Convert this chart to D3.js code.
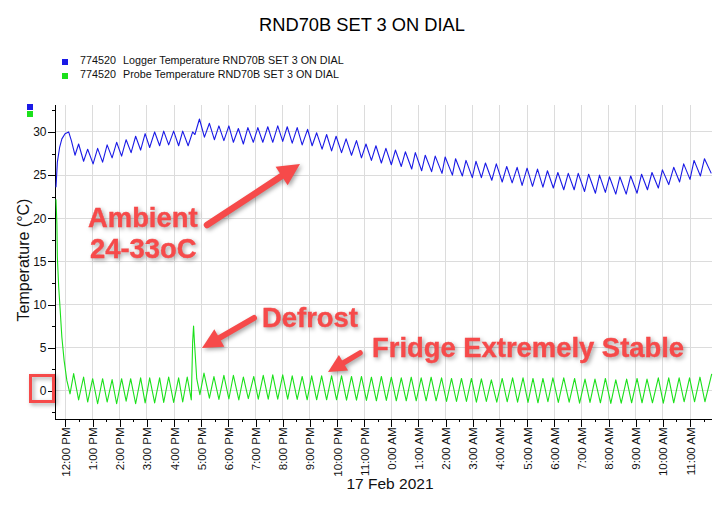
<!DOCTYPE html>
<html><head>
<meta charset="utf-8">
<title>RND70B SET 3 ON DIAL</title>
<script src="https://cdn.jsdelivr.net/npm/d3@7"></script>
<style>
body { margin: 0; background: #fff; }
text { font-family: "Liberation Sans", Arial, sans-serif; }
.axis path, .axis line { stroke: #000; shape-rendering: crispEdges; }
.axis text { font-size: 11.5px; fill: #111; }
.grid line { stroke: #dcdcdc; shape-rendering: crispEdges; }
.note { font-weight: bold; font-size: 27.4px; fill: #f64a4a; stroke: #f64a4a; stroke-width: .4px; }
.shadow { filter: drop-shadow(2px 2px 2px rgba(0,0,0,.35)); }
</style>
</head>
<body>
<svg id="chart" width="719" height="510"></svg>
<script>
// minutes after 12:00 PM, peaks and troughs
var loggerMinutes = [-21,-18,-13,-8,-1,7,13,21,29,40,49,61,71,82,92,103,113,124,134,145,155,166,176,186,197,208,217,228,239,250,259,271,281,286,296,307,318,329,339,350,361,371,382,
  393,403,415,425,436,447,458,469,480,490,501,512,523,535,545,555,567,577,588,598,610,620,632,643,654,664,676,686,698,708,720,729,742,751,765,773,787,795,809,817,832,839,855,862,877,885,899,907,
  919,928,942,952,965,975,987,998,1009,1020,1032,1043,1055,1065,1078,1088,1101,1111,1124,1133,1147,1156,1171,1180,1193,1202,1216,1225,1239,1249,1263,1273,1286,1296,1310,1319,1333,1344,1357,1366,1380,1389,1403,1412,1427];
var loggerTemp = [23.6,26.5,28.2,29.2,29.8,30.0,29.0,27.3,28.6,26.6,28.0,26.3,28.1,26.5,28.5,27.0,28.8,27.2,29.1,27.6,29.5,27.9,29.8,28.2,30.0,28.4,30.1,28.5,30.1,28.4,30.1,28.4,30.0,29.7,31.5,29.4,31.0,29.1,30.7,29.0,30.7,28.8,30.4,
  28.6,30.5,28.8,30.5,28.8,30.6,28.8,30.7,28.9,30.6,28.7,30.5,28.5,30.3,28.4,29.9,28.0,29.7,27.8,29.5,27.6,29.2,27.3,29.0,27.0,28.6,26.7,28.4,26.4,28.1,26.2,27.9,26.0,27.7,25.7,27.6,25.5,27.3,25.4,27.2,25.2,27.1,25.0,26.9,24.9,26.7,24.7,26.6,
  24.7,26.4,24.4,26.3,24.2,26.0,24.1,25.9,23.8,25.8,23.7,25.7,23.6,25.5,23.5,25.3,23.3,25.2,23.3,25.2,23.1,25.1,22.9,25.0,23.0,24.8,22.8,24.8,22.8,24.9,22.9,25.1,23.3,25.3,23.5,25.6,23.9,25.9,24.2,26.3,24.5,26.7,24.9,26.9,25.2];

var probeMinutes = [-21,-19,-18,-15,-13,-8,-3,3,10,18,29,40,49,60,71,82,92,103,113,124,134,144,155,166,176,186,197,208,217,228,239,250,259,269,278,281,283,285,290,297,306,318,328,339,350,361,371,383,
  393,404,416,426,437,448,458,469,480,491,501,512,523,534,544,555,566,577,588,599,610,621,632,643,654,665,676,687,698,709,720,731,742,753,764,775,786,797,808,819,831,842,853,864,875,886,897,908,
  919,930,941,953,965,976,988,999,1011,1022,1033,1044,1055,1066,1077,1089,1101,1113,1125,1136,1148,1159,1170,1182,1193,1205,1216,1228,1240,1251,1263,1274,1285,1297,1310,1321,1333,1344,1356,1367,1379,1390,1402,1413,1428];
var probeTemp = [22.2,19.3,15.5,12,10.4,6.2,3.5,1.2,-0.35,2.0,-1.05,1.6,-1.3,1.4,-1.5,1.4,-1.3,1.3,-1.5,1.4,-1.2,1.4,-1.5,1.5,-1.4,1.5,-1.4,1.5,-1.35,1.6,-1.35,1.5,-1.3,1.6,-1.05,5.7,7.5,5.6,1.4,-0.45,2.05,-0.85,1.65,-1.0,1.8,-0.95,1.8,-1.05,
  1.6,-0.9,1.66,-0.97,1.8,-0.97,1.85,-0.97,1.85,-0.97,1.74,-1.0,1.66,-1.04,1.74,-1.04,1.74,-1.04,1.74,-1.04,1.74,-1.08,1.66,-1.08,1.66,-1.12,1.58,-1.16,1.66,-1.12,1.58,-1.16,1.5,-1.16,1.58,-1.16,1.5,-1.16,1.58,-1.16,1.5,-1.24,1.43,-1.24,1.43,-1.24,1.43,-1.31,
  1.39,-1.24,1.27,-1.31,1.43,-1.27,1.5,-1.31,1.5,-1.35,1.43,-1.39,1.43,-1.27,1.5,-1.35,1.5,-1.31,1.43,-1.43,1.35,-1.35,1.35,-1.39,1.43,-1.47,1.27,-1.43,1.35,-1.39,1.43,-1.39,1.35,-1.39,1.5,-1.43,1.5,-1.39,1.5,-1.27,1.5,-1.27,1.58,-1.27,1.97];

var hourLabels = ["12:00 PM","1:00 PM","2:00 PM","3:00 PM","4:00 PM","5:00 PM","6:00 PM","7:00 PM","8:00 PM","9:00 PM","10:00 PM","11:00 PM",
  "0:00 AM","1:00 AM","2:00 AM","3:00 AM","4:00 AM","5:00 AM","6:00 AM","7:00 AM","8:00 AM","9:00 AM","10:00 AM","11:00 AM"];
var tempTicks = [0,5,10,15,20,25,30];
var tempMinorTicks = [-2.5,2.5,7.5,12.5,17.5,22.5,27.5,32.5];
var hourTicks = hourLabels.map(function(d,i){ return i*60; });
var halfHourTicks = hourLabels.map(function(d,i){ return i*60+30; });

var svg = d3.select("#chart");
var x = d3.scaleLinear().domain([-24.3,1427.5]).range([54.5,711.5]);
var y = d3.scaleLinear().domain([-3.21,33.18]).range([418.5,104.5]);

//grid
svg.append("g").attr("class","grid").selectAll("line").data(hourTicks).enter().append("line")
  .attr("x1",x).attr("x2",x).attr("y1",y.range()[1]).attr("y2",y.range()[0]);
svg.append("g").attr("class","grid").selectAll("line").data(tempTicks).enter().append("line")
  .attr("y1",y).attr("y2",y).attr("x1",x.range()[0]).attr("x2",x.range()[1]);

//axes
var xAxis = svg.append("g").attr("class","axis").attr("transform","translate(0,418.5)")
  .call(d3.axisBottom(x).tickValues(hourTicks).tickSize(8).tickSizeOuter(0)
    .tickFormat(function(d,i){ return hourLabels[i]; }));
xAxis.selectAll("text").attr("transform","rotate(-90)").attr("text-anchor","end")
  .attr("x",-9).attr("y",0).attr("dy",".35em");
svg.append("g").attr("class","axis").attr("transform","translate(0,418.5)")
  .call(d3.axisBottom(x).tickValues(halfHourTicks).tickSize(3).tickSizeOuter(0).tickFormat(""));
var yAxis = svg.append("g").attr("class","axis").attr("transform","translate(54.5,0)")
  .call(d3.axisLeft(y).tickValues(tempTicks).tickSize(7).tickSizeOuter(0).tickPadding(1));
yAxis.selectAll("text").style("font-size","12px");
svg.append("g").attr("class","axis").attr("transform","translate(54.5,0)")
  .call(d3.axisLeft(y).tickValues(tempMinorTicks).tickSize(3).tickSizeOuter(0).tickFormat(""));

//series
function drawSeries(minutes,temps,color)
{
  var line = d3.line().x(function(d){ return x(minutes[d]); }).y(function(d){ return y(temps[d]); });
  svg.append("path").attr("d",line(d3.range(minutes.length)))
    .attr("fill","none").attr("stroke",color).attr("stroke-width",1.1).attr("stroke-linejoin","round");
}
drawSeries(probeMinutes,probeTemp,"#1be01b");
drawSeries(loggerMinutes,loggerTemp,"#1a1ae6");

//titles
svg.append("text").attr("x",362).attr("y",31).attr("text-anchor","middle").attr("font-size",18.3).text("RND70B SET 3 ON DIAL");
svg.append("text").attr("transform","translate(29,260) rotate(-90)").attr("text-anchor","middle").attr("font-size",16).attr("fill","#111").text("Temperature (°C)");
svg.append("text").attr("x",390).attr("y",489).attr("text-anchor","middle").attr("font-size",15.5).attr("fill","#111").text("17 Feb 2021");

//legend
var legendRows = [["774520","Logger Temperature RND70B SET 3 ON DIAL","#1a1ae6"],["774520","Probe Temperature RND70B SET 3 ON DIAL","#1be01b"]];
legendRows.forEach(function(r,i){
  svg.append("rect").attr("x",62).attr("y",59+i*14).attr("width",6).attr("height",6).attr("fill",r[2]);
  svg.append("text").attr("x",80).attr("y",64+i*14).attr("font-size",10.75).attr("fill","#111").text(r[0]);
  svg.append("text").attr("x",123).attr("y",64+i*14).attr("font-size",10.75).attr("fill","#111").text(r[1]);
  svg.append("rect").attr("x",27).attr("y",104+i*7).attr("width",6).attr("height",6).attr("fill",r[2]);
});

//annotations
var notes = svg.append("g").attr("class","shadow");
function arrow(x1,y1,x2,y2,thick,head)
{
  var a = Math.atan2(y2-y1,x2-x1), len = head*2, w = head;
  var bx = x2-len*Math.cos(a), by = y2-len*Math.sin(a);
  var nx = -Math.sin(a), ny = Math.cos(a);
  notes.append("line").attr("x1",x1).attr("y1",y1).attr("x2",bx).attr("y2",by)
    .attr("stroke","#f64a4a").attr("stroke-width",thick).attr("stroke-linecap","round");
  notes.append("polygon").attr("fill","#f64a4a")
    .attr("points",[[x2,y2],[bx+nx*w,by+ny*w],[bx-nx*w,by-ny*w]].join(" "));
}
arrow(207,225,300,164,6.5,11);
arrow(254,318,202,348,6,10);
arrow(360,353,328,372,5.5,9);
notes.append("rect").attr("x",30.5).attr("y",375.5).attr("width",23).attr("height",26)
  .attr("fill","none").attr("stroke","#f64a4a").attr("stroke-width",3);
[["Ambient",88,227],["24-33oC",90,258],["Defrost",262,327],["Fridge Extremely Stable",372,357]].forEach(function(n){
  notes.append("text").attr("class","note").attr("x",n[1]).attr("y",n[2]).text(n[0]);
});
</script>
</body></html>
